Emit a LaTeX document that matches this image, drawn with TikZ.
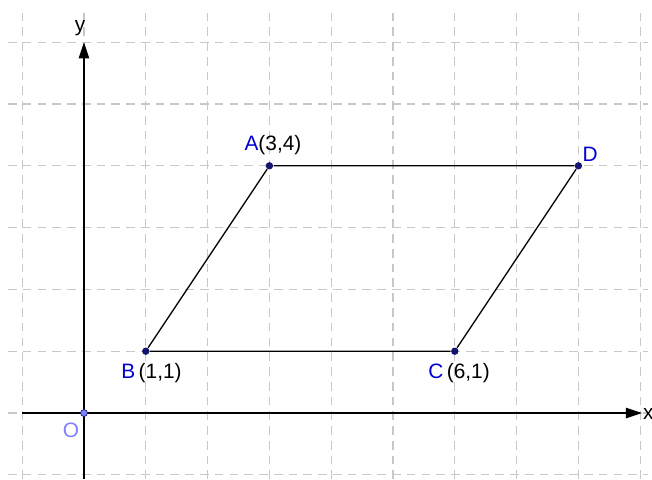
\documentclass[tikz,border=0pt]{standalone}
\usepackage{fontspec}
\setmainfont{Liberation Sans}
\usetikzlibrary{arrows.meta}
\definecolor{ptblue}{RGB}{20,20,110}
\definecolor{lblblue}{RGB}{0,0,210}
\definecolor{oblue}{RGB}{128,128,255}
\definecolor{gridgray}{RGB}{200,200,200}
\tikzset{
  gridline/.style={gridgray, line width=0.6pt, dash pattern=on 4pt off 2.8pt},
  axis/.style={black, line width=0.65pt, -{Triangle[length=7.5pt,width=4.8pt]}},
  side/.style={black, line width=0.6pt},
  pt/.style={circle, fill=ptblue, inner sep=0pt, minimum size=3.4pt},
  lbl/.style={font=\fontsize{9.6pt}{11pt}\selectfont, inner sep=0pt},
}
\begin{document}
\begin{tikzpicture}
\useasboundingbox (-1.359,-1.068) rectangle (9.191,6.683);
% grid
\foreach \x in {-1,0,...,9} \draw[gridline] (\x,-1.07) -- (\x,6.52);
\foreach \y in {-1,0,...,6} \draw[gridline] (-1.23,\y) -- (9.12,\y);
% axes
\coordinate (xs) at (-1,0);
\coordinate (xe) at (9.03,0);
\coordinate (ys) at (0,-1.07);
\coordinate (ye) at (0,6.0);
\draw[axis] (xs) -- (xe);
\draw[axis] (ys) -- (ye);
\node[lbl] (xl) at (9.13,-0.01) {x};
\node[lbl] (yl) at (-0.065,6.22) {y};
% points
\node[pt] (A) at (3,4) {};
\node[pt] (B) at (1,1) {};
\node[pt] (C) at (6,1) {};
\node[pt] (D) at (8,4) {};
\draw[side] (A) -- (D) -- (C) -- (B) -- (A);
\node[circle, fill=oblue, draw=ptblue, line width=0.3pt, inner sep=0pt, minimum size=3.2pt] (O) at (0,0) {};
% labels
\node[lbl] (Al) at (3.058,4.34) {\textcolor{lblblue}{A}(3,4)};
\node[lbl] (Bl) at (1.092,0.64) {\textcolor{lblblue}{B}\,(1,1)};
\node[lbl] (Cl) at (6.068,0.64) {\textcolor{lblblue}{C}\,(6,1)};
\node[lbl, text=lblblue] (Dl) at (8.19,4.18) {D};
\node[lbl, text=oblue] (Ol) at (-0.21,-0.275) {O};
\end{tikzpicture}
\end{document}
